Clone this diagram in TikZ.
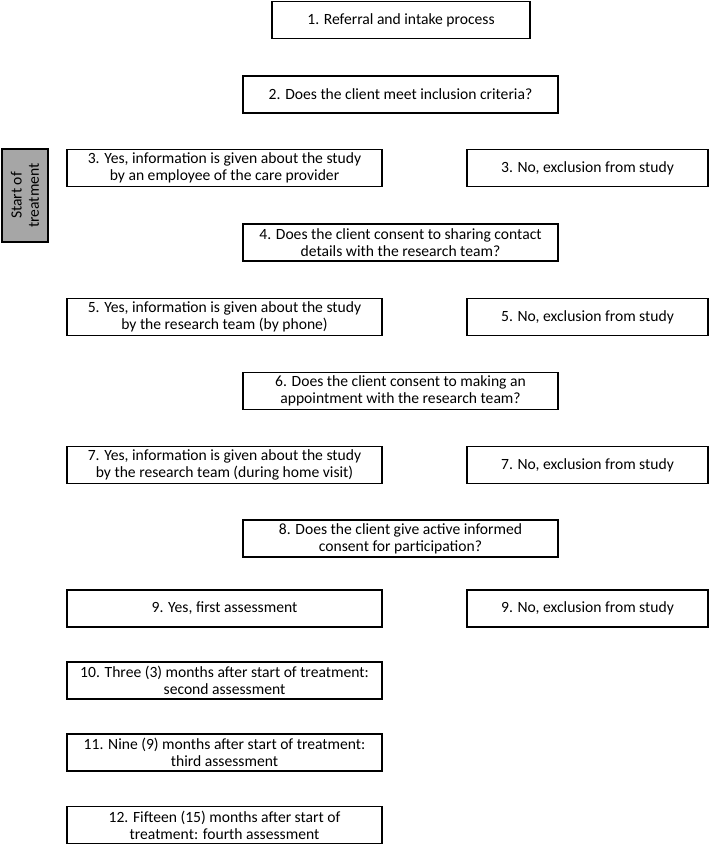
\documentclass[tikz,border=0pt]{standalone}
\usepackage{fontspec}
\setmainfont{Carlito}
\tikzset{
	stap/.style={draw, line width=1.1pt, align=center, inner sep=1pt,
		minimum height=0.93cm, font=\fontsize{11.1}{12.3}\selectfont},
	breed/.style={stap, minimum width=7.875cm},
	nee/.style={stap, minimum width=6.025cm},
}
\begin{document}
\begin{tikzpicture}[x=0.025cm,y=-0.025cm]
	\useasboundingbox (0,0) rectangle (709,845);% vaste marges
	
	\path (401,20) node[stap, minimum width=6.45cm] (s1) {1. Referral and intake process};
	\foreach \i/\y/\t in {2/94.5/{2. Does the client meet inclusion criteria?},
		4/242.5/{4. Does the client consent to sharing contact\\details with the research team?},
		6/391/{6. Does the client consent to making an\\appointment with the research team?},
		8/538.5/{8. Does the client give active informed\\consent for participation?}}% vragen in het midden
	{\path (400.5,\y) node[breed] (s\i) {\t};}
	
	\path (224.5,168) node[breed] (ja3) {3. Yes, information is given about the study\\by an employee of the care provider}
	(224.5,317) node[breed] (ja5) {5. Yes, information is given about the study\\by the research team (by phone)}
	(224.5,465) node[breed] (ja7) {7. Yes, information is given about the study\\by the research team (during home visit)}
	(224.5,608.5) node[breed] (ja9) {9. Yes, first assessment};
	
	\foreach \i/\y in {3/168,5/317,7/465,9/608.5}% rechterkolom
	{\path (587.5,\y) node[nee] (nee\i) {\i. No, exclusion from study};}
	
	\path (224.5,680.5) node[breed] (s10) {10. Three (3) months after start of treatment:\\second assessment}
	(224.5,752.5) node[breed] (s11) {11. Nine (9) months after start of treatment:\\third assessment}
	(224.5,825) node[breed] (s12) {12. Fifteen (15) months after start of\\treatment: fourth assessment};
	
	% grijs blok links
	\path (25,195.5) node[stap, fill=black!35, rotate=90, minimum width=2.325cm, minimum height=1.15cm] (start) {Start of\\treatment};
\end{tikzpicture}
\end{document}
